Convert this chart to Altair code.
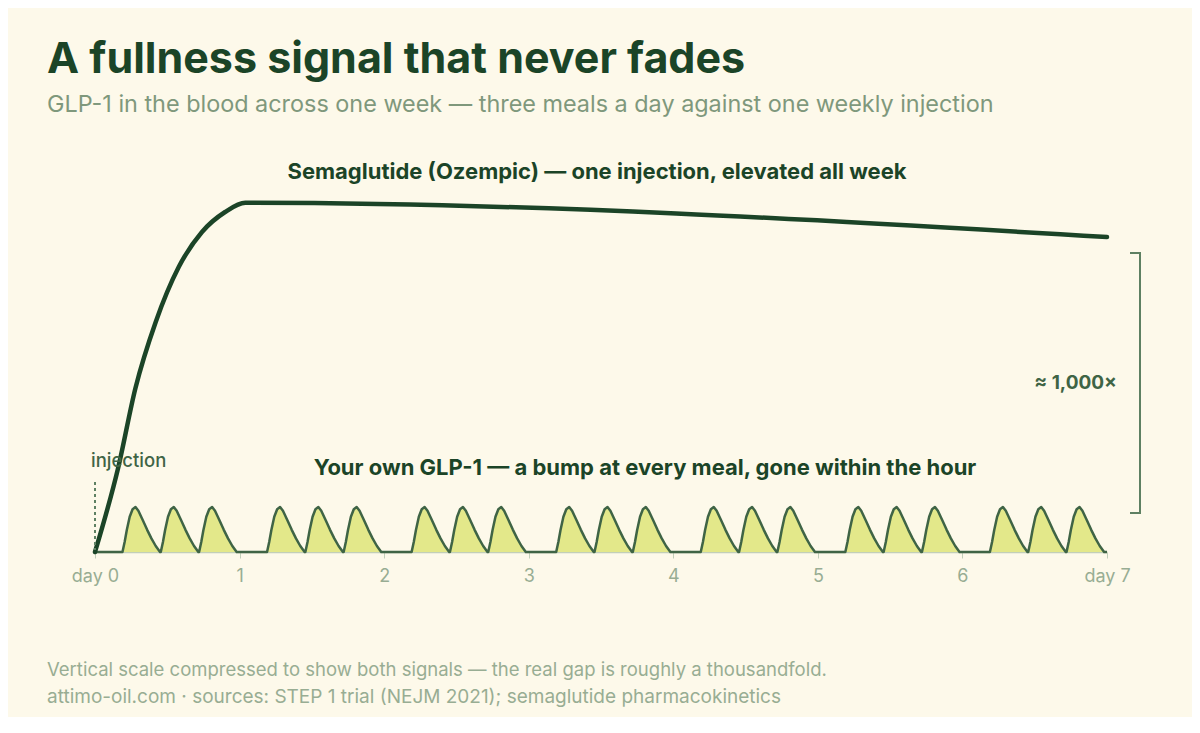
import altair as alt
import pandas as pd

# ---- data ----
sema_day = [0, 0.16, 0.28, 0.42, 0.58, 0.74, 0.90, 1.04, 7]
sema_val = [0, 21, 41, 57.5, 71.3, 80, 85, 87.3, 78.75]

days = [0, 1, 2, 3, 4, 5, 6]
meal_offsets = [0.19, 0.455, 0.72]          # meal start, in day fraction
bump_dt = [0, 0.015, 0.03, 0.05, 0.07, 0.09, 0.11, 0.14, 0.17, 0.20, 0.23, 0.26]
bump_val = [0, 2.5, 5.5, 8.8, 10.7, 11.25, 10.3, 8.0, 5.6, 3.4, 1.5, 0]

tick_values = [0, 1, 2, 3, 4, 5, 6, 7]

# ---- build tables ----
sema = pd.DataFrame({"day": sema_day, "v": sema_val})

mx, mv = [0.0], [0.0]
for d in days:
    for o in meal_offsets:
        for dt, v in zip(bump_dt, bump_val):
            mx.append(d + o + dt)
            mv.append(v)
mx.append(7.0)
mv.append(0.0)
meal = pd.DataFrame({"day": mx, "v": mv})

BG = "#fdf9ea"
DARK = "#1b4427"
MID = "#3f6445"
SOFT = "#5e8062"
GREY = "#98ad93"
SUB = "#7f987c"
FONT = "Inter"

W, H = 1012, 400

xs = alt.X("day:Q", scale=alt.Scale(domain=[0, 7], nice=False),
           axis=alt.Axis(values=tick_values, title=None, grid=False,
                         labelExpr="datum.value == 0 ? 'day 0' : datum.value == 7 ? 'day 7' : format(datum.value, 'd')",
                         labelColor=GREY, labelFontSize=18, labelFont=FONT,
                         labelPadding=9, tickSize=6, tickColor="#c2cfb9",
                         domainColor="#c2cfb9", domainWidth=1.5, labelFlush=False))
ys = alt.Y("v:Q", scale=alt.Scale(domain=[0, 100], nice=False), axis=None)

meal_area = alt.Chart(meal).mark_area(color="#e3e88a", opacity=1).encode(x=xs, y=ys)
meal_line = alt.Chart(meal).mark_line(color=MID, strokeWidth=2.5, strokeJoin="round").encode(x="day:Q", y="v:Q")
sema_line = alt.Chart(sema).mark_line(color=DARK, strokeWidth=4.5, interpolate="monotone",
                                      strokeCap="round").encode(x="day:Q", y="v:Q")

one = pd.DataFrame({"a": [0]})

def txt(text, x, y, size, color, weight="normal", align="left", baseline="alphabetic"):
    return alt.Chart(one).mark_text(text=text, font=FONT, fontSize=size, color=color,
                                    fontWeight=weight, align=align, baseline=baseline
                                    ).encode(x=alt.value(x), y=alt.value(y))

inj_rule = alt.Chart(one).mark_rule(color=SOFT, strokeWidth=2, strokeDash=[3, 3]).encode(
    x=alt.value(0), y=alt.value(330), y2=alt.value(398))

br_v = alt.Chart(one).mark_rule(color=SOFT, strokeWidth=2).encode(
    x=alt.value(1045), y=alt.value(101), y2=alt.value(361))
br_t = alt.Chart(one).mark_rule(color=SOFT, strokeWidth=2).encode(
    x=alt.value(1035), x2=alt.value(1046), y=alt.value(101))
br_b = alt.Chart(one).mark_rule(color=SOFT, strokeWidth=2).encode(
    x=alt.value(1035), x2=alt.value(1046), y=alt.value(361))

layers = [
    meal_area, meal_line, sema_line, inj_rule, br_v, br_t, br_b,
    txt("A fullness signal that never fades", -48, -79, 43, DARK, "bold"),
    txt("GLP-1 in the blood across one week \u2014 three meals a day against one weekly injection",
        -48, -40, 23.4, SUB),
    txt("Semaglutide (Ozempic) \u2014 one injection, elevated all week", 502, 27, 22, DARK, "bold", "center"),
    txt("Your own GLP-1 \u2014 a bump at every meal, gone within the hour", 550, 323, 22, DARK, "bold", "center"),
    txt("injection", -4, 315, 18.5, MID, 500),
    txt("\u2248 1,000\u00d7", 1022, 231, 19, MID, "bold", "right", "middle"),
    txt("Vertical scale compressed to show both signals \u2014 the real gap is roughly a thousandfold.",
        -48, 524, 18.5, GREY),
    txt("attimo-oil.com \u00b7 sources: STEP 1 trial (NEJM 2021); semaglutide pharmacokinetics",
        -48, 551, 19, GREY),
]

chart = alt.layer(*layers).properties(
    width=W, height=H, background=BG,
    autosize=alt.AutoSizeParams(type="none"),
    padding={"left": 87, "top": 144, "right": 85, "bottom": 165},
).configure_view(stroke=None)

chart.save("out.html", embed_options={"renderer": "svg", "actions": False})
